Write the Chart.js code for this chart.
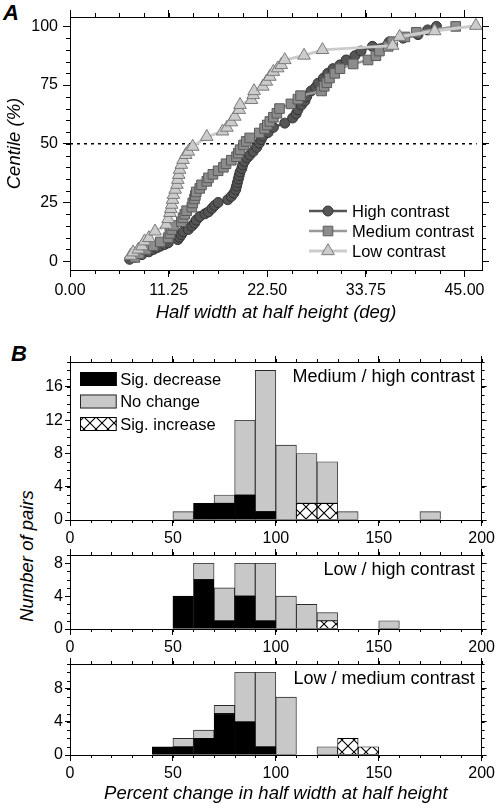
<!DOCTYPE html>
<html><head><meta charset="utf-8">
<script src="https://cdn.jsdelivr.net/npm/chart.js@4/dist/chart.umd.min.js"></script>
<style>
html,body{margin:0;padding:0;background:#fff;}
#wrap{position:relative;width:498px;height:808px;background:#fff;overflow:hidden;font-family:"Liberation Sans",Arial,sans-serif;color:#000;}
canvas{position:absolute;left:0;}
.lab{position:absolute;font-weight:bold;font-style:italic;font-size:22px;line-height:22px;}
#ytB{position:absolute;left:-73px;top:545px;width:200px;height:22px;line-height:22px;text-align:center;font-style:italic;font-size:18.5px;transform:rotate(-90deg);transform-origin:50% 50%;white-space:nowrap;}
</style></head>
<body><div id="wrap">
<div class="lab" style="left:3px;top:2px">A</div>
<div class="lab" style="left:11px;top:343px">B</div>
<div id="ytB">Number of pairs</div>
<canvas id="cA" width="498" height="330" style="top:0px"></canvas>
<canvas id="cB1" width="498" height="205" style="top:345px"></canvas>
<canvas id="cB2" width="498" height="119" style="top:540px"></canvas>
<canvas id="cB3" width="498" height="158" style="top:650px"></canvas>
</div>
<script>
// ---------- Panel A data: [half width (deg), centile (%)] ----------
const highContrast = [[6.8,0.8],[7.3,1.6],[8.2,2.8],[9.0,4.0],[9.5,5.0],[9.9,5.7],[10.3,6.4],[10.8,7.1],[11.2,7.8],[12.3,9.2],[12.5,10.2],[12.7,11.3],[12.9,12.5],[13.5,13.5],[13.9,15.0],[14.2,16.2],[14.4,17.5],[14.8,19.0],[15.4,20.2],[15.8,21.0],[16.2,22.5],[16.5,23.7],[16.9,25.0],[18.0,26.2],[18.4,27.6],[18.7,29.0],[18.9,30.5],[19.0,32.0],[19.1,33.5],[19.2,35.0],[19.3,36.5],[19.4,38.0],[19.6,39.5],[19.7,41.0],[19.9,42.5],[20.2,44.0],[20.5,45.2],[20.9,46.7],[21.3,48.5],[21.6,50.3],[21.8,51.8],[22.0,53.2],[22.6,54.8],[23.2,57.0],[24.5,58.8],[25.4,61.0],[25.8,62.8],[26.0,64.5],[26.4,66.5],[26.8,68.3],[27.0,70.1],[27.5,72.5],[28.0,74.0],[28.3,75.8],[28.9,77.9],[29.4,80.0],[30.0,82.0],[30.8,83.6],[31.5,85.7],[32.5,87.5],[33.2,89.5],[34.5,91.5],[36.4,93.3],[38.0,95.0],[39.7,96.5],[40.8,98.5],[41.8,100]];
const mediumContrast = [[7.4,1.6],[7.9,3.2],[8.7,5.0],[9.5,6.6],[10.3,8.2],[11.2,10.0],[11.4,11.8],[11.6,13.5],[11.8,15.2],[12.7,16.8],[12.9,18.5],[13.1,20.0],[13.3,21.5],[13.9,23.0],[14.0,24.8],[14.2,26.5],[14.3,28.0],[14.4,29.5],[14.8,31.0],[15.0,32.5],[15.6,34.0],[15.8,35.5],[16.3,37.0],[16.9,38.5],[17.5,40.0],[17.8,41.5],[18.4,43.0],[19.0,44.5],[19.2,46.0],[19.4,47.5],[19.8,49.5],[20.1,51.0],[20.5,52.5],[21.6,54.6],[22.2,56.5],[22.5,58.0],[22.8,59.5],[23.2,61.3],[23.6,63.0],[23.9,65.0],[25.2,67.0],[26.0,69.0],[26.3,70.5],[28.7,72.5],[29.0,74.5],[29.3,76.0],[29.6,78.0],[30.2,80.0],[30.8,82.0],[32.3,84.0],[34.0,85.7],[34.9,87.5],[35.3,89.5],[36.3,91.5],[36.8,93.5],[38.2,95.5],[39.5,97.5],[44.0,100]];
const lowContrast = [[6.9,2.4],[7.2,3.8],[7.8,5.0],[8.2,6.4],[8.5,8.5],[9.0,9.9],[9.7,12.7],[11.0,15.6],[11.2,18.0],[11.4,20.6],[11.5,22.3],[11.6,24.1],[11.7,26.2],[11.8,28.3],[12.0,30.5],[12.2,32.6],[12.3,34.7],[12.4,36.8],[12.5,39.0],[12.7,41.1],[12.9,43.2],[13.2,45.3],[13.5,46.7],[14.0,48.8],[15.6,53.0],[17.4,55.3],[17.9,56.9],[18.4,59.2],[18.8,61.6],[19.3,64.5],[19.4,66.6],[20.7,68.7],[20.9,70.8],[21.0,72.5],[22.0,74.4],[22.4,76.5],[22.8,78.6],[23.2,80.7],[23.7,82.2],[24.1,83.6],[24.5,85.7],[26.7,87.6],[28.8,90.0],[36.8,91.8],[37.6,95.6],[41.6,98.0],[46.3,100.3]];
const medianLine = [[0,50],[46.4,50]];
const xTicksA = [0, 11.25, 22.5, 33.75, 45];
const xTickLabelsA = ['0.00','11.25','22.50','33.75','45.00'];
const yTicksA = [0, 25, 50, 75, 100];

// ---------- Panel B data: counts per 10% bin ----------
const binCenters = [5,15,25,35,45,55,65,75,85,95,105,115,125,135,145,155,165,175,185,195];
const decMH = [0,0,0,0,0,0,2,2,3,1,0,0,0,0,0,0,0,0,0,0];
const incMH = [0,0,0,0,0,0,0,0,0,0,0,2,2,0,0,0,0,0,0,0];
const ncMH  = [0,0,0,0,0,1,0,1,9,17,9,6,5,1,0,0,0,1,0,0];
const decLH = [0,0,0,0,0,4,6,1,4,1,0,0,0,0,0,0,0,0,0,0];
const incLH = [0,0,0,0,0,0,0,0,0,0,0,0,1,0,0,0,0,0,0,0];
const ncLH  = [0,0,0,0,0,0,2,4,4,7,4,3,1,0,0,1,0,0,0,0];
const decLM = [0,0,0,0,1,1,2,5,4,1,0,0,0,0,0,0,0,0,0,0];
const incLM = [0,0,0,0,0,0,0,0,0,0,0,0,0,2,1,0,0,0,0,0];
const ncLM  = [0,0,0,0,0,1,1,1,6,9,7,0,1,0,0,0,0,0,0,0];
const xTicksB = [0, 50, 100, 150, 200];
const yTicksB1 = [0, 4, 8, 12, 16];
const yTicksB2 = [0, 4, 8];
const yTicksB3 = [0, 4, 8];

// ---------- setup ----------
const FONT = '"Liberation Sans", Arial, sans-serif';
Chart.defaults.font.family = FONT;
Chart.defaults.color = '#000';
Chart.defaults.animation = false;

const range = (a, b, s) => { const r = []; for (let v = a; v <= b + 1e-9; v += s) r.push(+v.toFixed(4)); return r; };

const minorTicks = {
  id: 'minorTicks',
  afterDraw(chart, args, opts) {
    if (!opts.sets) return;
    const ctx = chart.ctx, a = chart.chartArea;
    ctx.save(); ctx.strokeStyle = '#000'; ctx.lineWidth = 1;
    for (const [id, vals] of Object.entries(opts.sets)) {
      const s = chart.scales[id]; if (!s) continue;
      for (const v of vals) {
        const p = Math.round(s.getPixelForValue(v)) + 0.5;
        ctx.beginPath();
        if (s.isHorizontal()) {
          const y0 = s.position === 'top' ? a.top : a.bottom;
          const d = s.position === 'top' ? -1 : 1;
          ctx.moveTo(p, y0); ctx.lineTo(p, y0 + d * opts.len);
        } else {
          const x0 = s.position === 'left' ? a.left : a.right;
          const d = s.position === 'left' ? -1 : 1;
          ctx.moveTo(x0, p); ctx.lineTo(x0 + d * opts.len, p);
        }
        ctx.stroke();
      }
    }
    ctx.restore();
  }
};

function marker(ctx, style, x, y, r, fill, stroke, bw) {
  ctx.beginPath();
  if (style === 'circle') ctx.arc(x, y, r, 0, Math.PI * 2);
  else if (style === 'rect') { const s = r * Math.SQRT1_2; ctx.rect(x - s, y - s, 2 * s, 2 * s); }
  else { for (let k = 0; k < 3; k++) { const an = k * 2 * Math.PI / 3; const px = x + Math.sin(an) * r, py = y - Math.cos(an) * r; if (k) ctx.lineTo(px, py); else ctx.moveTo(px, py); } ctx.closePath(); }
  ctx.fillStyle = fill; ctx.fill(); ctx.lineWidth = bw; ctx.strokeStyle = stroke; ctx.stroke();
}

const legendA = {
  id: 'legendA',
  afterDraw(chart, args, opts) {
    if (!opts.items) return;
    const ctx = chart.ctx, a = chart.chartArea;
    ctx.save();
    ctx.font = '16.5px ' + FONT; ctx.textBaseline = 'middle'; ctx.textAlign = 'left'; ctx.fillStyle = '#000';
    opts.items.forEach((it, i) => {
      const ds = chart.data.datasets[it.ds];
      const y = a.bottom - 59 + i * 20;
      const x1 = a.right - 173, x2 = a.right - 135;
      ctx.beginPath(); ctx.moveTo(x1, y); ctx.lineTo(x2, y);
      ctx.strokeStyle = ds.borderColor; ctx.lineWidth = ds.borderWidth; ctx.stroke();
      marker(ctx, ds.pointStyle, (x1 + x2) / 2, y, ds.pointRadius, ds.pointBackgroundColor, ds.pointBorderColor, ds.pointBorderWidth);
      ctx.fillStyle = '#000';
      ctx.fillText(it.text, a.right - 130, y + 1);
    });
    ctx.restore();
  }
};

const histDecor = {
  id: 'histDecor',
  afterDraw(chart, args, opts) {
    const ctx = chart.ctx, a = chart.chartArea;
    ctx.save();
    if (opts.title) {
      ctx.font = '18px ' + FONT; ctx.textAlign = 'right'; ctx.textBaseline = 'middle'; ctx.fillStyle = '#000';
      ctx.fillText(opts.title, a.right - 7, a.top + 15);
    }
    if (opts.legend) {
      ctx.font = '16.5px ' + FONT; ctx.textAlign = 'left'; ctx.textBaseline = 'middle';
      opts.legend.forEach((it, i) => {
        const ds = chart.data.datasets[it.ds];
        const bx = a.left + 10, by = a.top + 10 + i * 22.5, bw = 36.7, bh = 14;
        ctx.fillStyle = ds.backgroundColor; ctx.fillRect(bx, by, bw, bh);
        ctx.strokeStyle = ds.borderColor; ctx.lineWidth = 1; ctx.strokeRect(bx + 0.5, by + 0.5, bw - 1, bh - 1);
        ctx.fillStyle = '#000'; ctx.fillText(it.text, bx + bw + 3.5, by + bh / 2 + 1);
      });
    }
    ctx.restore();
  }
};

function axis(pos, min, max, ticks, opts) {
  const horiz = pos === 'top' || pos === 'bottom';
  const o = {
    type: 'linear', position: pos, min: min, max: max, offset: false,
    afterBuildTicks: s => { s.ticks = ticks.map(v => ({ value: v })); },
    grid: { drawOnChartArea: false, drawTicks: true, tickLength: opts.tickLen, tickColor: '#000', color: '#000', lineWidth: 1, offset: false },
    border: { display: true, color: '#000', width: 1 },
    ticks: { display: !!opts.labels, font: { size: opts.fontSize || 16 }, padding: opts.pad || 3, color: '#000', maxRotation: 0, autoSkip: false,
      callback: (v, i) => opts.labels ? opts.labels[i] : '' },
    title: opts.title ? { display: true, text: opts.title, font: { size: 18.5, style: 'italic' }, color: '#000', padding: opts.titlePad || { top: 4, bottom: 4 } } : { display: false },
    afterFit: s => { if (horiz) s.height = opts.size; else s.width = opts.size; }
  };
  if (opts.stacked) o.stacked = true;
  return o;
}

// ---------- Panel A ----------
const toXY = arr => arr.map(p => ({ x: p[0], y: p[1] }));
new Chart(document.getElementById('cA'), {
  type: 'scatter',
  data: {
    datasets: [
      { label: 'High contrast', data: toXY(highContrast), showLine: true, borderColor: '#555555', borderWidth: 2.5,
        pointStyle: 'circle', pointRadius: 5, pointBackgroundColor: '#555555', pointBorderColor: '#333333', pointBorderWidth: 1, order: 3 },
      { label: 'Medium contrast', data: toXY(mediumContrast), showLine: true, borderColor: '#999999', borderWidth: 2.5,
        pointStyle: 'rect', pointRadius: 6.8, pointBackgroundColor: '#8c8c8c', pointBorderColor: '#5a5a5a', pointBorderWidth: 1, order: 2 },
      { label: 'Low contrast', data: toXY(lowContrast), showLine: true, borderColor: '#cccccc', borderWidth: 3,
        pointStyle: 'triangle', pointRadius: 7.3, pointBackgroundColor: '#cccccc', pointBorderColor: '#7a7a7a', pointBorderWidth: 1, order: 1 },
      { label: 'median', data: toXY(medianLine), showLine: true, borderColor: '#000', borderWidth: 1.5, borderDash: [3, 4],
        pointRadius: 0, order: 4 }
    ]
  },
  options: {
    responsive: false, animation: false,
    layout: { padding: 0 },
    plugins: { legend: { display: false }, tooltip: { enabled: false },
      minorTicks: { len: 4, sets: { x: range(0, 47, 2.8125), x2: range(0, 47, 2.8125), y: range(0, 100, 5), y2: range(0, 100, 5) } },
      legendA: { items: [{ ds: 0, text: 'High contrast' }, { ds: 1, text: 'Medium contrast' }, { ds: 2, text: 'Low contrast' }] }
    },
    scales: {
      x: axis('bottom', 0, 47, xTicksA, { tickLen: 7, labels: xTickLabelsA, pad: 4, size: 60, title: 'Half width at half height (deg)', titlePad: { top: 4, bottom: 6 } }),
      x2: axis('top', 0, 47, xTicksA, { tickLen: 7, size: 17 }),
      y: axis('left', -3.75, 104, yTicksA, { tickLen: 7, labels: yTicksA.map(String), pad: 5, size: 70, title: 'Centile (%)' }),
      y2: axis('right', -3.75, 104, yTicksA, { tickLen: 7, size: 16 })
    }
  },
  plugins: [minorTicks, legendA]
});

// ---------- Panel B ----------
function crossPattern() {
  const c = document.createElement('canvas'); c.width = 12; c.height = 12;
  const g = c.getContext('2d'); g.fillStyle = '#fff'; g.fillRect(0, 0, 12, 12);
  g.strokeStyle = '#000'; g.lineWidth = 1.1;
  g.beginPath(); g.moveTo(0, 0); g.lineTo(12, 12); g.moveTo(12, 0); g.lineTo(0, 12); g.stroke();
  return g.createPattern(c, 'repeat');
}
const CROSS = crossPattern();
const toBars = arr => arr.map((v, i) => ({ x: binCenters[i], y: v }));

function hist(id, dec, inc, nc, yMax, yTicks, title, sizes, extra) {
  const xOpts = { tickLen: 6, labels: xTicksB.map(String), pad: 3, size: sizes.bottom };
  if (extra && extra.xTitle) { xOpts.title = extra.xTitle; xOpts.titlePad = { top: 2, bottom: 3 }; }
  return new Chart(document.getElementById(id), {
    type: 'bar',
    data: {
      datasets: [
        { label: 'Sig. decrease', data: toBars(dec), backgroundColor: '#000', borderColor: '#000', borderWidth: 0.9, borderSkipped: false },
        { label: 'Sig. increase', data: toBars(inc), backgroundColor: CROSS, borderColor: '#000', borderWidth: 0.9, borderSkipped: false },
        { label: 'No change', data: toBars(nc), backgroundColor: '#c8c8c8', borderColor: '#2a2a2a', borderWidth: 0.9, borderSkipped: false }
      ]
    },
    options: {
      responsive: false, animation: false,
      layout: { padding: 0 },
      datasets: { bar: { barPercentage: 1, categoryPercentage: 1 } },
      plugins: { legend: { display: false }, tooltip: { enabled: false },
        minorTicks: { len: 3, sets: { x: range(0, 200, 10), x2: range(0, 200, 10), y: range(0, yMax, 1), y2: range(0, yMax, 1) } },
        histDecor: { title: title, legend: extra && extra.legend ? [{ ds: 0, text: 'Sig. decrease' }, { ds: 2, text: 'No change' }, { ds: 1, text: 'Sig. increase' }] : null }
      },
      scales: {
        x: Object.assign(axis('bottom', 0, 200, xTicksB, xOpts), { stacked: true }),
        x2: axis('top', 0, 200, xTicksB, { tickLen: 6, size: sizes.top }),
        y: Object.assign(axis('left', 0, yMax, yTicks, { tickLen: 5, labels: yTicks.map(String), pad: 2, size: 70 }), { stacked: true }),
        y2: axis('right', 0, yMax, yTicks, { tickLen: 5, size: 16 })
      }
    },
    plugins: [minorTicks, histDecor]
  });
}
hist('cB1', decMH, incMH, ncMH, 19, yTicksB1, 'Medium / high contrast', { top: 17, bottom: 30 }, { legend: true });
hist('cB2', decLH, incLH, ncLH, 9, yTicksB2, 'Low / high contrast', { top: 15, bottom: 30 });
hist('cB3', decLM, incLM, ncLM, 11, yTicksB3, 'Low / medium contrast', { top: 14, bottom: 53 }, { xTitle: 'Percent change in half width at half height' });
</script>
</body></html>
